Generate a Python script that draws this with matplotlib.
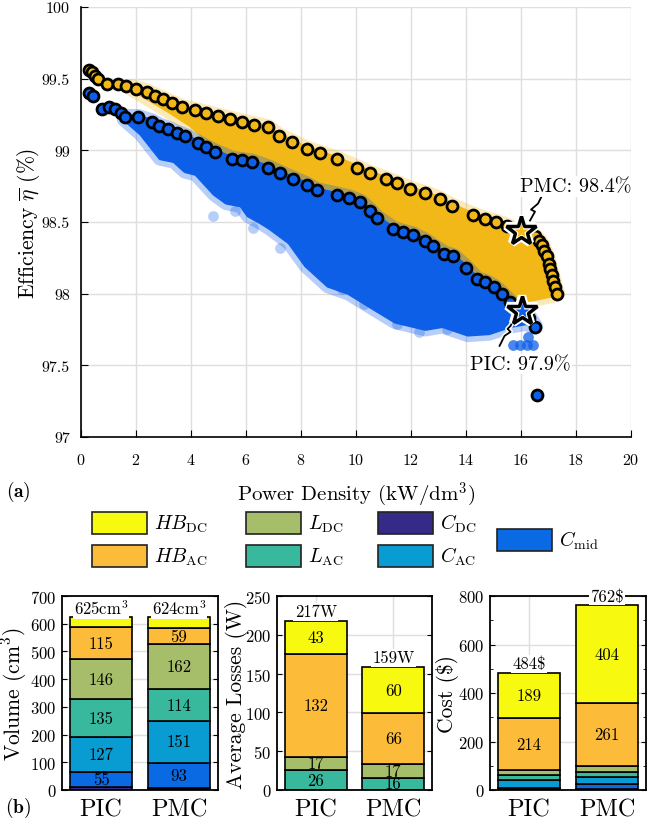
import matplotlib.pyplot as plt
import numpy as np
from matplotlib.patches import Rectangle
from matplotlib.ticker import MultipleLocator

plt.rcParams['font.family'] = ['cmr10', 'DejaVu Serif']
plt.rcParams['mathtext.fontset'] = 'cm'
plt.rcParams['axes.formatter.use_mathtext'] = True
plt.rcParams['axes.unicode_minus'] = False

# ---- (a) Pareto fronts: power density (kW/dm3) vs efficiency (%)
pmc_x = [0.30, 0.40, 0.50, 0.62, 0.93, 1.35, 1.65, 2.00, 2.40, 2.70, 2.98, 3.30, 3.66,
         4.15, 4.55, 4.98, 5.40, 5.84, 6.30, 6.80, 7.20, 7.66, 8.20, 8.69, 9.30, 10.03,
         10.50, 11.10, 11.50, 11.96, 12.50, 13.05, 13.50, 14.25, 14.70, 15.10, 15.50,
         16.00, 16.30, 16.50, 16.65, 16.75, 16.85, 16.93, 17.00, 17.05, 17.12, 17.17,
         17.22, 17.30]
pmc_y = [99.56, 99.55, 99.52, 99.50, 99.46, 99.46, 99.45, 99.43, 99.41, 99.38, 99.36,
         99.33, 99.30, 99.28, 99.26, 99.24, 99.22, 99.20, 99.18, 99.16, 99.10, 99.06,
         99.01, 98.98, 98.94, 98.88, 98.84, 98.80, 98.77, 98.73, 98.70, 98.66, 98.61,
         98.55, 98.52, 98.50, 98.47, 98.44, 98.42, 98.40, 98.37, 98.34, 98.30, 98.26,
         98.21, 98.17, 98.13, 98.09, 98.05, 98.00]

pic_x = [0.30, 0.45, 0.75, 1.00, 1.24, 1.45, 1.60, 2.08, 2.57, 2.85, 3.17, 3.50, 3.78,
         4.27, 4.55, 4.87, 5.48, 5.85, 6.20, 6.80, 7.25, 7.72, 8.20, 8.57, 9.30, 9.75,
         10.15, 10.50, 10.75, 11.36, 11.70, 12.08, 12.50, 12.80, 13.20, 13.54, 14.00,
         14.39, 14.70, 15.00, 15.30, 15.60, 16.02, 16.30, 16.50, 16.57]
pic_y = [99.40, 99.38, 99.29, 99.30, 99.29, 99.26, 99.23, 99.23, 99.20, 99.17, 99.15,
         99.12, 99.10, 99.05, 99.02, 98.99, 98.94, 98.93, 98.92, 98.88, 98.84, 98.80,
         98.76, 98.72, 98.69, 98.67, 98.64, 98.58, 98.53, 98.45, 98.43, 98.41, 98.37,
         98.33, 98.28, 98.26, 98.18, 98.10, 98.08, 98.05, 98.00, 97.94, 97.88, 97.83,
         97.77, 97.29]

# lower outline of the PMC design cloud
pmc_cloud_x = [1.8, 2.5, 3.2, 4.0, 4.6, 5.2, 5.84, 6.8, 7.72, 8.57, 9.3, 10.15, 10.75,
               11.36, 12.08, 12.8, 13.54, 14.39, 15.0, 15.6, 16.3, 17.3]
pmc_cloud_y = [99.44, 99.36, 99.28, 99.18, 99.08, 98.98, 98.93, 98.88, 98.80, 98.72,
               98.69, 98.64, 98.53, 98.45, 98.41, 98.33, 98.26, 98.10, 98.05, 97.94,
               97.96, 98.00]
# lower outline of the PIC design cloud
pic_cloud_x = [1.6, 2.2, 2.9, 3.4, 3.8, 4.2, 4.87, 5.3, 5.84, 6.1, 6.57, 6.9, 7.6,
               8.2, 9.0, 9.74, 10.67, 11.44, 12.53, 13.15, 14.07, 14.84, 15.62, 16.2, 16.5]
pic_cloud_y = [99.22, 99.12, 98.95, 98.93, 98.86, 98.84, 98.70, 98.64, 98.62, 98.55,
               98.50, 98.46, 98.36, 98.20, 98.06, 98.01, 97.90, 97.81, 97.76, 97.78,
               97.72, 97.73, 97.78, 97.80, 97.77]
# scattered PIC designs outside the dense cloud
pic_loose_x = [4.8, 5.6, 6.25, 7.25, 8.8, 9.5, 10.3, 11.5, 12.3, 13.3]
pic_loose_y = [98.54, 98.58, 98.46, 98.32, 98.12, 98.03, 97.93, 97.79, 97.73, 97.75]
pic_row_x = [15.7, 15.95, 16.2, 16.45, 16.25]
pic_row_y = [97.64, 97.64, 97.64, 97.64, 97.70]

best_pmc = [16.0, 98.44]
best_pic = [16.02, 97.88]

# ---- (b) component breakdown, bottom -> top
comp_labels = [r'$C_{\mathrm{DC}}$', r'$C_{\mathrm{mid}}$', r'$C_{\mathrm{AC}}$',
               r'$L_{\mathrm{AC}}$', r'$L_{\mathrm{DC}}$', r'$HB_{\mathrm{AC}}$',
               r'$HB_{\mathrm{DC}}$']
comp_colors = ['#352A87', '#0A6AE4', '#099CD2', '#38B99E', '#A6BE6A', '#FCBC3A', '#F7F90E']
designs = ['PIC', 'PMC']
volume = {'PIC': [10, 55, 127, 135, 146, 115, 37], 'PMC': [6, 93, 151, 114, 162, 59, 39]}
losses = {'PIC': [0, 0, 0, 26, 17, 132, 43], 'PMC': [0, 0, 0, 16, 17, 66, 60]}
cost = {'PIC': [4, 6, 31, 20, 20, 214, 189], 'PMC': [3, 22, 30, 20, 22, 261, 404]}
volume_tot = ['625cm$^3$', '624cm$^3$']
losses_tot = ['217W', '159W']
cost_tot = [r'484\$', r'762\$']

YELLOW = '#F2B817'
BLUE = '#0D5FE8'
GRID = '#DEDEDE'

fig = plt.figure(figsize=(6.65, 8.29), dpi=100)
W, H = 665, 829


def px_axes(l, t, r, b):
    return fig.add_axes([l / W, 1 - b / H, (r - l) / W, (b - t) / H])


# ================= (a) =================
ax = px_axes(81, 8, 631, 438)
ax.set_xlim(0, 20)
ax.set_ylim(97, 100)

ux = [x for x in pmc_x if x >= 1.8]
uy = [y for x, y in zip(pmc_x, pmc_y) if x >= 1.8]
px_ = ux + pmc_cloud_x[::-1]
py_ = uy + pmc_cloud_y[::-1]
ax.fill(px_, py_, facecolor=YELLOW, edgecolor=YELLOW, lw=12, alpha=0.3, joinstyle='round', zorder=2)
ax.fill(px_, py_, facecolor=YELLOW, edgecolor=YELLOW, lw=4, joinstyle='round', zorder=2)
bx = [x for x, y in zip(pic_x, pic_y) if x >= 1.6 and y > 97.5]
by = [y for x, y in zip(pic_x, pic_y) if x >= 1.6 and y > 97.5]
qx = bx + pic_cloud_x[::-1]
qy = by + pic_cloud_y[::-1]
ax.fill(qx, qy, facecolor=BLUE, edgecolor=BLUE, lw=12, alpha=0.3, joinstyle='round', zorder=3)
ax.fill(qx, qy, facecolor=BLUE, edgecolor=BLUE, lw=4, joinstyle='round', zorder=3)
ax.scatter(pic_loose_x, pic_loose_y, s=60, color=BLUE, alpha=0.3, lw=0, zorder=3)
ax.scatter(pic_row_x, pic_row_y, s=60, color=BLUE, alpha=0.75, lw=0, zorder=3)

ax.scatter(pmc_x, pmc_y, s=62, facecolor=YELLOW, edgecolor='black', lw=2, zorder=5)
ax.scatter(pic_x, pic_y, s=62, facecolor=BLUE, edgecolor='black', lw=2, zorder=5)

for pt, col in [(best_pmc, YELLOW), (best_pic, BLUE)]:
    ax.plot(pt[0], pt[1], marker='*', ms=22, mfc='white', mec='white', mew=6, zorder=7)
    ax.plot(pt[0], pt[1], marker='*', ms=22, mfc='white', mec='black', mew=2.5, zorder=8)
    ax.plot(pt[0], pt[1], marker='*', ms=11, mfc=col, mec='none', zorder=9)


def squiggle(pt, offs):
    p = ax.transData.transform(pt)
    pts = np.array([p + np.array(o) for o in offs])
    d = ax.transData.inverted().transform(pts)
    ax.plot(d[:, 0], d[:, 1], color='white', lw=3.5, zorder=6, solid_capstyle='round')
    ax.plot(d[:, 0], d[:, 1], color='black', lw=1.3, zorder=6.5)


squiggle(best_pmc, [(9, 10), (14, 19), (10, 21), (17, 27), (21, 35)])
squiggle(best_pic, [(-7, -7), (-11, -15), (-14, -18), (-11, -21), (-17, -25), (-22, -35)])

ax.text(15.95, 98.75, 'PMC: 98.4%', fontsize=14.5, ha='left', va='center', zorder=10,
        bbox=dict(facecolor='white', edgecolor='none', pad=1))
ax.text(14.15, 97.51, 'PIC: 97.9%', fontsize=14.5, ha='left', va='center', zorder=10,
        bbox=dict(facecolor='white', edgecolor='none', pad=1))

ax.set_xticks(np.arange(0, 21, 2))
ax.set_yticks(np.arange(97, 100.01, 0.5))
ax.set_yticklabels(['97', '97.5', '98', '98.5', '99', '99.5', '100'])
ax.grid(True, color=GRID, lw=1)
ax.set_axisbelow(True)
for s in ['top', 'right']:
    ax.spines[s].set_visible(False)
for s in ['left', 'bottom']:
    ax.spines[s].set_linewidth(1.2)
ax.tick_params(direction='in', length=5, labelsize=11.5, pad=8)
ax.tick_params(axis='x', pad=11)
ax.set_xlabel('Power Density (kW/dm$^3$)', fontsize=15)
ax.set_ylabel(r'Efficiency $\overline{\eta}$ (%)', fontsize=15.5)
ax.xaxis.set_label_coords(0.5, -0.1)
ax.yaxis.set_label_coords(-0.07, 0.5)
fig.text(18 / W, 1 - 492 / H, r'$\mathbf{(a)}$', fontsize=14, ha='center', va='center')

# ================= legend =================
lg = fig.add_axes([0, 0, 1, 1])
lg.set_xlim(0, W)
lg.set_ylim(H, 0)
lg.axis('off')
leg_pos = [(378, 524), (497, 541), (378, 557), (246, 557), (246, 524), (92, 557), (92, 524)]
for (lx, ly), lab, col in zip(leg_pos, comp_labels, comp_colors):
    lg.add_patch(Rectangle((lx, ly - 11), 55, 22, facecolor=col, edgecolor='#222222', lw=1.2))
    lg.text(lx + 62, ly, lab, fontsize=14.5, ha='left', va='center')

# ================= (b) =================
xpos = np.array([1, 2])


def stacked(axb, data, totals, ymax, major, minor, ylabel, lab_x):
    axb.set_xlim(0.5, 2.5)
    axb.set_ylim(0, ymax)
    ax_h = axb.get_position().height * H
    for i, d in enumerate(designs):
        bottom = 0
        for v, col in zip(data[d], comp_colors):
            if v > 0:
                axb.bar(xpos[i], v, bottom=bottom, width=0.8, color=col,
                        edgecolor='black', lw=1.2, zorder=3)
                if v / ymax * ax_h >= 12:
                    axb.text(xpos[i], bottom + v / 2, str(v), ha='center', va='center',
                             fontsize=12, zorder=4)
            bottom += v
        axb.annotate(totals[i], (xpos[i], bottom), xytext=(0, 9), textcoords='offset pixels',
                     ha='center', va='center', fontsize=12, zorder=6, annotation_clip=False,
                     bbox=dict(facecolor='white', edgecolor='none', pad=1))
    axb.set_xticks(xpos)
    axb.set_xticklabels(designs, fontsize=17.5)
    axb.yaxis.set_major_locator(MultipleLocator(major))
    if minor:
        axb.yaxis.set_minor_locator(MultipleLocator(minor))
    axb.grid(True, color=GRID, lw=1)
    axb.set_axisbelow(True)
    axb.tick_params(axis='y', which='both', direction='in', right=True, labelsize=12, pad=4)
    axb.tick_params(axis='x', direction='in', length=0, pad=6)
    for s in axb.spines.values():
        s.set_linewidth(1.3)
        s.set_zorder(5)
    axb.set_ylabel(ylabel, fontsize=15.5)
    axb.yaxis.set_label_coords(lab_x, 0.5)


ax1 = px_axes(62, 597, 218, 791)
stacked(ax1, volume, volume_tot, 700, 100, None, 'Volume (cm$^3$)', -0.21)
ax2 = px_axes(277, 597, 432, 791)
stacked(ax2, losses, losses_tot, 250, 50, None, 'Average Losses (W)', -0.19)
ax3 = px_axes(490, 597, 646, 791)
stacked(ax3, cost, cost_tot, 800, 200, 100, r'Cost (\$)', -0.2)

fig.text(18 / W, 1 - 808 / H, r'$\mathbf{(b)}$', fontsize=14, ha='center', va='center')

fig.savefig('out.png', dpi=100)
